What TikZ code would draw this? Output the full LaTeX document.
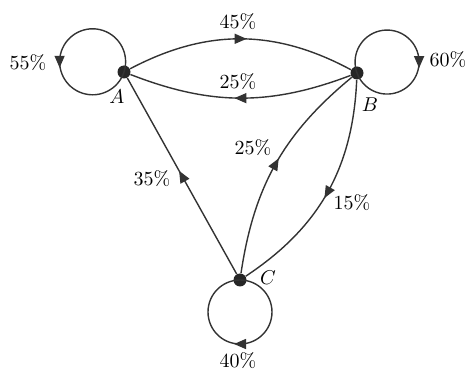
\documentclass[tikz,border=0pt]{standalone}
\usetikzlibrary{arrows.meta,decorations.markings}
\begin{document}
\begin{tikzpicture}[x=0.5pt,y=0.5pt,
    state/.style={circle,fill=black!85,inner sep=0pt,minimum size=6.5pt},
    flow/.style={line width=0.7pt,draw=black!80,postaction={decorate},
      decoration={markings,mark=at position #1 with {\arrow[xshift=3pt]{Triangle[length=6pt,width=5pt]}}}},
    flow/.default=0.5]
  \useasboundingbox (0,0) rectangle (467,370);
  % states
  \node[state] (A) at (124,298) {};
  \node[state] (B) at (357,297) {};
  \node[state] (C) at (240,90) {};
  \node (labA) at (117,273) {$A$};
  \node (labB) at (370,265) {$B$};
  \node (labC) at (268,92) {$C$};
  % transitions
  \draw[flow] (A) to[bend left=28] (B);
  \draw[flow] (B) to[bend left=21] (A);
  \draw[flow] (C) -- (A);
  \draw[flow] (C) to[bend left=21] (B);
  \draw[flow] (B) to[bend left=27] (C);
  \draw[flow=0.55] (A.center) arc[start angle=-18,end angle=342,radius=33];
  \draw[flow=0.556] (B.center) arc[start angle=200,end angle=-160,radius=32];
  \draw[flow] (C.center) arc[start angle=90,end angle=-270,radius=32];
  % rates
  \node (pAA) at (28,307) {55\%};
  \node (pAB) at (238,348) {45\%};
  \node (pBA) at (238,288) {25\%};
  \node (pBB) at (448,310) {60\%};
  \node (pCA) at (152,191) {35\%};
  \node (pCB) at (253,222) {25\%};
  \node (pBC) at (352,167) {15\%};
  \node (pCC) at (238,9) {40\%};
\end{tikzpicture}
\end{document}
